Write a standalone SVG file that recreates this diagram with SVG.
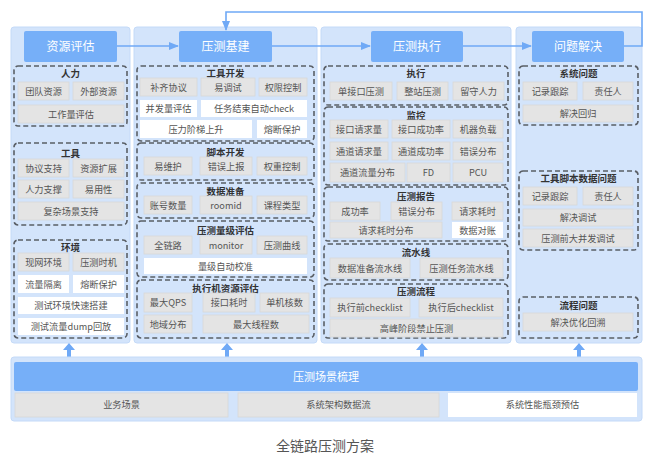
<svg xmlns="http://www.w3.org/2000/svg" width="653" height="466" viewBox="0 0 653 466">
<defs>
<style>
text{font-family:"Noto Sans CJK SC","Noto Sans",sans-serif;text-anchor:middle}
.col{fill:#d3e4fb;stroke:#c4daf8;stroke-width:1}
.hdr{fill:#76aff8}
.ht{fill:#ffffff;font-size:12px}
.grp{fill:none;stroke:#5a5f66;stroke-width:1.6;stroke-dasharray:5,3}
.gt{fill:#333;font-size:9.5px;font-weight:bold}
.it{fill:#e4e4e4;stroke:#d8d8d8;stroke-width:0.8}
.wt{fill:#ffffff}
.tx{fill:#555;font-size:9.2px}
.con{fill:none;stroke:#6fa9f6;stroke-width:1.6}
.up{fill:#6fa9f6}
</style>
<marker id="ah" markerWidth="10" markerHeight="8" refX="9" refY="4" orient="auto" markerUnits="userSpaceOnUse">
<path d="M0,0 L10,4 L0,8 Z" fill="#6fa9f6"/>
</marker>
</defs>
<rect width="653" height="466" fill="#ffffff"/>

<!-- column backgrounds -->
<rect class="col" x="11" y="27" width="119" height="316" rx="3"/>
<rect class="col" x="134" y="27" width="183" height="316" rx="3"/>
<rect class="col" x="321" y="27" width="190" height="316" rx="3"/>
<rect class="col" x="516" y="27" width="126" height="316" rx="3"/>

<!-- connectors -->
<g id="connectors">
<line class="con" x1="117" y1="46" x2="178" y2="46" marker-end="url(#ah)"/>
<line class="con" x1="272" y1="46" x2="370" y2="46" marker-end="url(#ah)"/>
<line class="con" x1="463" y1="46" x2="531" y2="46" marker-end="url(#ah)"/>
<polyline class="con" points="624,46 642,46 642,12 226,12 226,30" marker-end="url(#ah)"/>
<path class="up" d="M69,343 L75,350 L71,350 L71,357 L67,357 L67,350 L63,350 Z"/>
<path class="up" d="M227,343 L233,350 L229,350 L229,357 L225,357 L225,350 L221,350 Z"/>
<path class="up" d="M422,343 L428,350 L424,350 L424,357 L420,357 L420,350 L416,350 Z"/>
<path class="up" d="M579,343 L585,350 L581,350 L581,357 L577,357 L577,350 L573,350 Z"/>
</g>

<!-- headers -->
<g id="h1"><rect class="hdr" x="24" y="31" width="93" height="31" rx="2"/><text class="ht" x="70.5" y="50.5">资源评估</text></g>
<g id="h2"><rect class="hdr" x="179" y="31" width="93" height="31" rx="2"/><text class="ht" x="225.5" y="50.5">压测基建</text></g>
<g id="h3"><rect class="hdr" x="371" y="31" width="92" height="31" rx="2"/><text class="ht" x="417" y="50.5">压测执行</text></g>
<g id="h4"><rect class="hdr" x="532" y="31" width="92" height="31" rx="2"/><text class="ht" x="578" y="50.5">问题解决</text></g>

<!-- Column 1 -->
<g id="g-renli">
<rect class="grp" x="14" y="66" width="113" height="60" rx="4"/>
<text class="gt" x="70.5" y="77">人力</text>
<rect class="it" x="18" y="82" width="51" height="18"/><text class="tx" x="43.5" y="94.5">团队资源</text>
<rect class="it" x="73" y="82" width="51" height="18"/><text class="tx" x="98.5" y="94.5">外部资源</text>
<rect class="it" x="18" y="105" width="106" height="18"/><text class="tx" x="71" y="117.5">工作量评估</text>
</g>
<g id="g-gongju">
<rect class="grp" x="14" y="143" width="113" height="82" rx="4"/>
<text class="gt" x="70.5" y="156.5">工具</text>
<rect class="it" x="18" y="159" width="51" height="18"/><text class="tx" x="43.5" y="171.5">协议支持</text>
<rect class="it" x="73" y="159" width="51" height="18"/><text class="tx" x="98.5" y="171.5">资源扩展</text>
<rect class="it" x="18" y="180" width="51" height="18"/><text class="tx" x="43.5" y="192.5">人力支撑</text>
<rect class="it" x="73" y="180" width="51" height="18"/><text class="tx" x="98.5" y="192.5">易用性</text>
<rect class="it" x="18" y="202" width="106" height="18"/><text class="tx" x="71" y="214.5">复杂场景支持</text>
</g>
<g id="g-huanjing">
<rect class="grp" x="14" y="240" width="113" height="98" rx="4"/>
<text class="gt" x="70.5" y="250.5">环境</text>
<rect class="it" x="18" y="253" width="51" height="18"/><text class="tx" x="43.5" y="265.5">现网环境</text>
<rect class="it" x="73" y="253" width="51" height="18"/><text class="tx" x="98.5" y="265.5">压测时机</text>
<rect class="wt" x="18" y="275" width="51" height="18"/><text class="tx" x="43.5" y="287.5">流量隔离</text>
<rect class="wt" x="73" y="275" width="51" height="18"/><text class="tx" x="98.5" y="287.5">熔断保护</text>
<rect class="wt" x="18" y="297" width="106" height="17"/><text class="tx" x="71" y="309">测试环境快速搭建</text>
<rect class="wt" x="18" y="318" width="106" height="17"/><text class="tx" x="71" y="330">测试流量dump回放</text>
</g>

<!-- Column 2 -->
<g id="g-gongjukaifa">
<rect class="grp" x="137" y="66" width="177" height="75" rx="4"/>
<text class="gt" x="225.5" y="77">工具开发</text>
<rect class="it" x="140" y="78" width="57" height="18"/><text class="tx" x="168.5" y="90.5">补齐协议</text>
<rect class="it" x="201" y="78" width="54" height="18"/><text class="tx" x="228" y="90.5">易调试</text>
<rect class="it" x="259" y="78" width="48" height="18"/><text class="tx" x="283" y="90.5">权限控制</text>
<rect class="wt" x="140" y="100" width="57" height="17"/><text class="tx" x="168.5" y="112">并发量评估</text>
<rect class="wt" x="201" y="100" width="106" height="17"/><text class="tx" x="254" y="112">任务结束自动check</text>
<rect class="wt" x="140" y="120" width="112" height="18"/><text class="tx" x="196" y="132.5">压力阶梯上升</text>
<rect class="wt" x="257" y="120" width="50" height="18"/><text class="tx" x="282" y="132.5">熔断保护</text>
</g>
<g id="g-jiaoben">
<rect class="grp" x="137" y="143" width="177" height="37" rx="4"/>
<text class="gt" x="225.5" y="155.5">脚本开发</text>
<rect class="it" x="144" y="157" width="48" height="18"/><text class="tx" x="168" y="169.5">易维护</text>
<rect class="it" x="200" y="157" width="52" height="18"/><text class="tx" x="226" y="169.5">错误上报</text>
<rect class="it" x="257" y="157" width="50" height="18"/><text class="tx" x="282" y="169.5">权重控制</text>
</g>
<g id="g-shuju">
<rect class="grp" x="137" y="183" width="177" height="35" rx="4"/>
<text class="gt" x="225.5" y="194.5">数据准备</text>
<rect class="it" x="144" y="196" width="48" height="18"/><text class="tx" x="168" y="208.5">账号数量</text>
<rect class="it" x="200" y="196" width="52" height="18"/><text class="tx" x="226" y="208.5">roomid</text>
<rect class="it" x="257" y="196" width="50" height="18"/><text class="tx" x="282" y="208.5">课程类型</text>
</g>
<g id="g-liangji">
<rect class="grp" x="137" y="221" width="177" height="56" rx="4"/>
<text class="gt" x="225.5" y="233.5">压测量级评估</text>
<rect class="it" x="144" y="236" width="48" height="18"/><text class="tx" x="168" y="248.5">全链路</text>
<rect class="it" x="200" y="236" width="52" height="18"/><text class="tx" x="226" y="248.5">monitor</text>
<rect class="it" x="257" y="236" width="50" height="18"/><text class="tx" x="282" y="248.5">压测曲线</text>
<rect class="wt" x="144" y="258" width="163" height="16"/><text class="tx" x="225.5" y="269.5">量级自动校准</text>
</g>
<g id="g-zhixingji">
<rect class="grp" x="137" y="280" width="177" height="58" rx="4"/>
<text class="gt" x="225.5" y="291.5">执行机资源评估</text>
<rect class="it" x="144" y="293" width="48" height="19"/><text class="tx" x="168" y="306">最大QPS</text>
<rect class="it" x="203" y="293" width="52" height="19"/><text class="tx" x="229" y="306">接口耗时</text>
<rect class="it" x="260" y="293" width="49" height="19"/><text class="tx" x="284.5" y="306">单机核数</text>
<rect class="it" x="144" y="315" width="48" height="18"/><text class="tx" x="168" y="327.5">地域分布</text>
<rect class="it" x="203" y="315" width="106" height="18"/><text class="tx" x="256" y="327.5">最大线程数</text>
</g>

<!-- Column 3 -->
<g id="g-zhixing">
<rect class="grp" x="324" y="66" width="184" height="39" rx="4"/>
<text class="gt" x="416" y="76.5">执行</text>
<rect class="it" x="330" y="82" width="62" height="18"/><text class="tx" x="361" y="94.5">单接口压测</text>
<rect class="it" x="397" y="82" width="51" height="18"/><text class="tx" x="422.5" y="94.5">整站压测</text>
<rect class="it" x="453" y="82" width="51" height="18"/><text class="tx" x="478.5" y="94.5">留守人力</text>
</g>
<g id="g-jiankong">
<rect class="grp" x="324" y="107" width="184" height="78" rx="4"/>
<text class="gt" x="416" y="118.5">监控</text>
<rect class="it" x="330" y="120" width="58" height="18"/><text class="tx" x="359" y="132.5">接口请求量</text>
<rect class="it" x="392" y="120" width="58" height="18"/><text class="tx" x="421" y="132.5">接口成功率</text>
<rect class="it" x="453" y="120" width="50" height="18"/><text class="tx" x="478" y="132.5">机器负载</text>
<rect class="it" x="330" y="142" width="58" height="18"/><text class="tx" x="359" y="154.5">通道请求量</text>
<rect class="it" x="392" y="142" width="58" height="18"/><text class="tx" x="421" y="154.5">通道成功率</text>
<rect class="it" x="453" y="142" width="50" height="18"/><text class="tx" x="478" y="154.5">错误分布</text>
<rect class="it" x="330" y="163" width="75" height="19"/><text class="tx" x="367.5" y="176">通道流量分布</text>
<rect class="it" x="407" y="163" width="43" height="19"/><text class="tx" x="428.5" y="176">FD</text>
<rect class="it" x="453" y="163" width="50" height="19"/><text class="tx" x="478" y="176">PCU</text>
</g>
<g id="g-baogao">
<rect class="grp" x="324" y="187" width="184" height="54" rx="4"/>
<text class="gt" x="416" y="199.5">压测报告</text>
<rect class="it" x="330" y="202" width="50" height="18"/><text class="tx" x="355" y="214.5">成功率</text>
<rect class="it" x="391" y="202" width="51" height="18"/><text class="tx" x="416.5" y="214.5">错误分布</text>
<rect class="it" x="452" y="202" width="51" height="18"/><text class="tx" x="477.5" y="214.5">请求耗时</text>
<rect class="it" x="330" y="222" width="112" height="16"/><text class="tx" x="386" y="233.5">请求耗时分布</text>
<rect class="wt" x="452" y="222" width="51" height="16"/><text class="tx" x="477.5" y="233.5">数据对账</text>
</g>
<g id="g-liushui">
<rect class="grp" x="324" y="244" width="184" height="36" rx="4"/>
<text class="gt" x="416" y="255.5">流水线</text>
<rect class="it" x="330" y="258" width="80" height="20"/><text class="tx" x="370" y="271.5">数据准备流水线</text>
<rect class="it" x="420" y="258" width="83" height="20"/><text class="tx" x="461.5" y="271.5">压测任务流水线</text>
</g>
<g id="g-liucheng">
<rect class="grp" x="324" y="284" width="184" height="54" rx="4"/>
<text class="gt" x="416" y="294.5">压测流程</text>
<rect class="it" x="330" y="298" width="80" height="19"/><text class="tx" x="370" y="311">执行前checklist</text>
<rect class="it" x="419" y="298" width="84" height="19"/><text class="tx" x="461" y="311">执行后checklist</text>
<rect class="it" x="330" y="319" width="173" height="18"/><text class="tx" x="416.5" y="331.5">高峰阶段禁止压测</text>
</g>

<!-- Column 4 -->
<g id="g-xitong">
<rect class="grp" x="519" y="66" width="119" height="59" rx="4"/>
<text class="gt" x="578.5" y="76.5">系统问题</text>
<rect class="it" x="523" y="82" width="54" height="18"/><text class="tx" x="550" y="94.5">记录跟踪</text>
<rect class="it" x="583" y="82" width="50" height="18"/><text class="tx" x="608" y="94.5">责任人</text>
<rect class="it" x="523" y="105" width="110" height="17"/><text class="tx" x="578" y="117">解决回归</text>
</g>
<g id="g-gongjujiaoben">
<rect class="grp" x="519" y="171" width="119" height="79" rx="4"/>
<text class="gt" x="578.5" y="181.5">工具脚本数据问题</text>
<rect class="it" x="523" y="187" width="54" height="18"/><text class="tx" x="550" y="199.5">记录跟踪</text>
<rect class="it" x="583" y="187" width="50" height="18"/><text class="tx" x="608" y="199.5">责任人</text>
<rect class="it" x="523" y="209" width="110" height="17"/><text class="tx" x="578" y="221">解决调试</text>
<rect class="it" x="523" y="229" width="110" height="18"/><text class="tx" x="578" y="241.5">压测前大并发调试</text>
</g>
<g id="g-liuchengwenti">
<rect class="grp" x="519" y="297" width="119" height="41" rx="4"/>
<text class="gt" x="578.5" y="308.5">流程问题</text>
<rect class="it" x="523" y="313" width="110" height="18"/><text class="tx" x="578" y="325.5">解决优化回溯</text>
</g>

<!-- Bottom panel -->
<g id="bottom">
<rect class="col" x="11" y="357" width="631" height="64" rx="3"/>
<rect class="hdr" x="14" y="362" width="624" height="29" rx="2"/>
<text class="ht" x="326" y="380.5" style="font-size:11px">压测场景梳理</text>
<rect class="it" x="15" y="393" width="213" height="24"/><text class="tx" x="121.5" y="408">业务场景</text>
<rect class="it" x="238" y="393" width="201" height="24"/><text class="tx" x="338.5" y="408">系统架构数据流</text>
<rect class="wt" x="448" y="393" width="189" height="24"/><text class="tx" x="542.5" y="408">系统性能瓶颈预估</text>
</g>

<text x="325" y="451" style="fill:#555;font-size:14px">全链路压测方案</text>
</svg>
